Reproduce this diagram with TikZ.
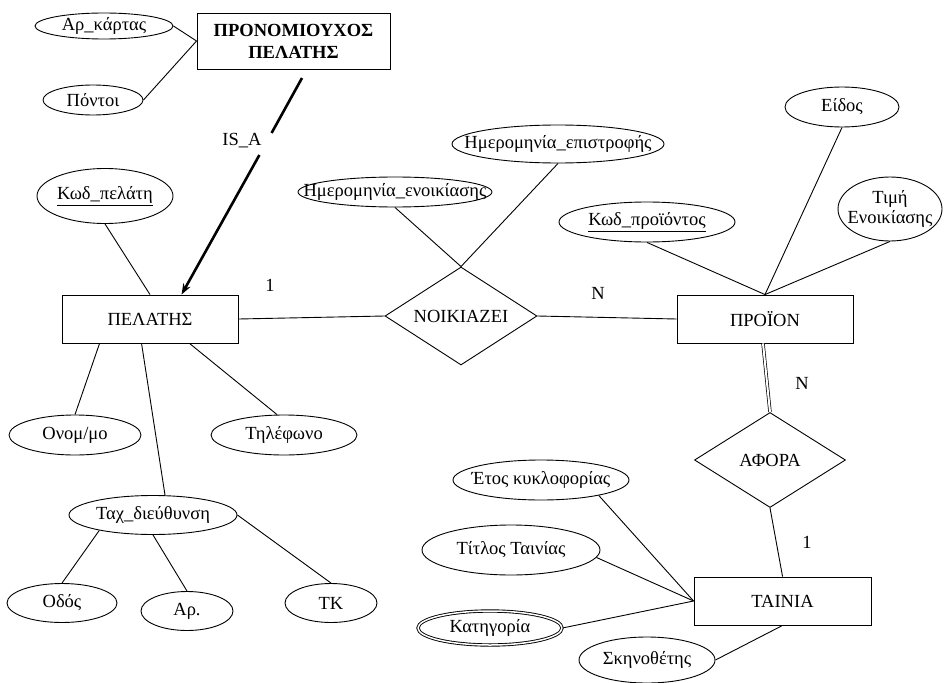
\documentclass[tikz,border=0pt]{standalone}
\usepackage{fontspec}
\setmainfont{Liberation Serif}
\usetikzlibrary{shapes.geometric,arrows.meta}
\newcommand{\zw}[1]{\makebox[0pt]{#1}}
\tikzset{
 base/.style={draw, line width=0.9pt, inner sep=0pt, font=\fontsize{18.5}{22}\selectfont},
 attr/.style={base, ellipse},
 ent/.style={base, rectangle, minimum width=176pt, minimum height=48pt},
 rel/.style={base, diamond},
 conn/.style={line width=0.9pt},
 isaline/.style={line width=2.6pt},
 lbl/.style={font=\fontsize{18.5}{22}\selectfont, inner sep=0pt},
}
\begin{document}
\begin{tikzpicture}[x=1pt,y=-1pt]
\useasboundingbox (0,0) rectangle (944,682);
% entities
\node[ent, minimum width=193pt, minimum height=56pt, font=\bfseries\fontsize{18.5}{22}\selectfont, align=center] (pron) at (293.5,41) {ΠΡΟΝΟΜΙΟΥΧΟΣ\\ΠΕΛΑΤΗΣ};
\node[ent] (pel) at (150,319) {ΠΕΛΑΤΗΣ};
\node[ent] (pro) at (765,319) {ΠΡΟΪΟΝ};
\node[ent, minimum width=177pt] (tainia) at (782.5,601) {ΤΑΙΝΙΑ};
% relationships
\node[rel, minimum width=152pt, minimum height=98pt] (noik) at (461,316) {\zw{ΝΟΙΚΙΑΖΕΙ}};
\node[rel, minimum width=151pt, minimum height=95pt] (afora) at (770,460) {\zw{ΑΦΟΡΑ}};
% attributes
\node[attr, minimum width=138pt, minimum height=26pt] (arkart) at (104,26) {\zw{Αρ\_κάρτας}};
\node[attr, minimum width=100pt, minimum height=30pt] (pontoi) at (93,100) {\zw{Πόντοι}};
\node[attr, minimum width=136pt, minimum height=55pt] (kodpel) at (105,196) {\zw{\underline{Κωδ\_πελάτη}}};
\node[attr, minimum width=132pt, minimum height=40pt] (onom) at (75,435) {\zw{Ονομ/μο}};
\node[attr, minimum width=146pt, minimum height=40pt] (til) at (284,435) {\zw{Τηλέφωνο}};
\node[attr, minimum width=168pt, minimum height=39pt] (tax) at (153,515) {\zw{Ταχ\_διεύθυνση}};
\node[attr, minimum width=110pt, minimum height=39pt] (odos) at (62,603) {\zw{Οδός}};
\node[attr, minimum width=92pt, minimum height=39pt] (ar) at (187,611) {\zw{Αρ.}};
\node[attr, minimum width=92pt, minimum height=39pt] (tk) at (331,603) {\zw{ΤΚ}};
\node[attr, minimum width=194pt, minimum height=30pt] (enoik) at (395,192) {\zw{Ημερομηνία\_ενοικίασης}};
\node[attr, minimum width=212pt, minimum height=38pt] (epis) at (558,144) {\zw{Ημερομηνία\_επιστροφής}};
\node[attr, minimum width=176pt, minimum height=40pt] (kodpro) at (647,222) {\zw{\underline{Κωδ\_προϊόντος}}};
\node[attr, minimum width=114pt, minimum height=40pt] (eidos) at (842,107) {\zw{Είδος}};
\node[attr, minimum width=104pt, minimum height=64pt] (timi) at (890,209) {\zw{\begin{tabular}{@{}c@{}}Τιμή\\[-2pt]Ενοικίασης\end{tabular}}};
\node[attr, minimum width=176pt, minimum height=40pt] (etos) at (541,480) {\zw{Έτος κυκλοφορίας}};
\node[attr, minimum width=178pt, minimum height=50pt] (titlos) at (511,550) {\zw{Τίτλος Ταινίας}};
\node[attr, double, double distance=1.5pt, minimum width=144pt, minimum height=34pt] (kat) at (490,628) {\zw{Κατηγορία}};
\node[attr, minimum width=136pt, minimum height=46pt] (skin) at (647,660) {\zw{Σκηνοθέτης}};
% labels
\node[lbl] (l1) at (270,285) {1};
\node[lbl] (n1) at (598,293) {N};
\node[lbl] (n2) at (802,383) {N};
\node[lbl] (l2) at (807,542) {1};
\node[lbl] (isa) at (242,141) {IS\_A};
% IS_A arrow
\coordinate (isaA) at (302,78);
\coordinate (isaB) at (271.6,133);
\coordinate (isaC) at (259.4,155);
\draw[isaline] (isaA) -- (isaB);
\draw[isaline, -{Stealth[length=11pt,width=8pt]}] (isaC) -- ([xshift=120pt]pel.north west);
% connectors
\draw[conn] (arkart.east) -- (pron.west);
\draw[conn] (pontoi.east) -- (pron.west);
\draw[conn] (kodpel.south) -- (pel.north);
\draw[conn] (pel.east) -- (noik.west);
\draw[conn] (noik.east) -- (pro.west);
\draw[conn] (enoik.south) -- (noik.north);
\draw[conn] (epis.south) -- (noik.north);
\draw[conn] (kodpro.south) -- (pro.north);
\draw[conn] (eidos.south) -- (pro.north);
\draw[conn] (timi.south) -- (pro.north);
\draw[double, double distance=2pt, line width=0.7pt] ([xshift=-2pt]pro.south) -- (afora.north);
\draw[conn] (afora.south) -- ([xshift=89pt]tainia.north west);
\draw[conn] (etos.-15) -- (tainia.west);
\draw[conn] (titlos.-5) -- (tainia.west);
\draw[conn] (kat.east) -- (tainia.west);
\draw[conn] (skin.east) -- (tainia.south);
\draw[conn] ([xshift=38pt]pel.south west) -- (onom.north);
\draw[conn] ([xshift=80pt]pel.south west) -- ([xshift=12pt]tax.north);
\draw[conn] ([xshift=128pt]pel.south west) -- ([xshift=-7pt]til.north);
\draw[conn] (tax.196) -- (odos.north);
\draw[conn] (tax.south) -- (ar.north);
\draw[conn] (tax.east) -- (tk.north);
\end{tikzpicture}
\end{document}
